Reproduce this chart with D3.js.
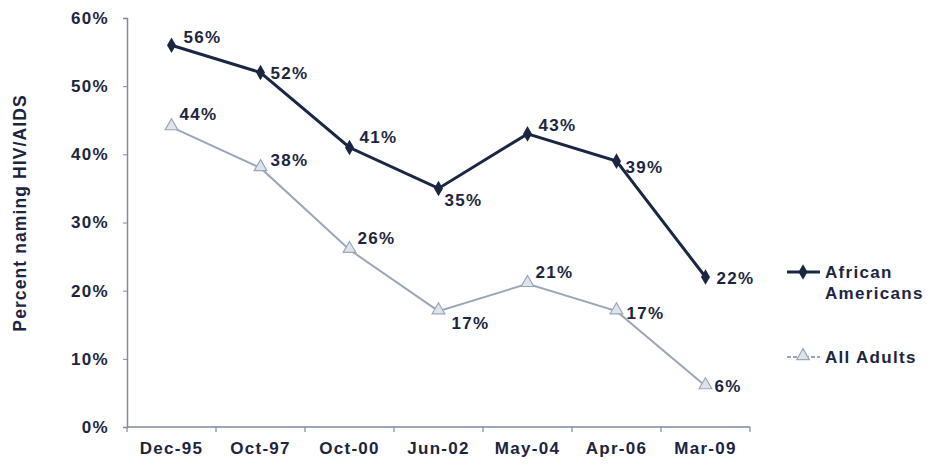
<!DOCTYPE html>
<html>
<head>
<meta charset="utf-8">
<script src="https://cdn.jsdelivr.net/npm/d3@7"></script>
<style>
  body { margin: 0; background: #fff; }
  text { font-family: "Liberation Sans", Arial, sans-serif; font-weight: bold; fill: #1c2540; letter-spacing: 1.3px; }
</style>
</head>
<body>
<div id="chart"></div>
<script>
// Data
const categories = ["Dec-95", "Oct-97", "Oct-00", "Jun-02", "May-04", "Apr-06", "Mar-09"];
const africanAmericans = [56, 52, 41, 35, 43, 39, 22];
const allAdults = [44, 38, 26, 17, 21, 17, 6];
const yTicks = [0, 10, 20, 30, 40, 50, 60];

// label offsets relative to each point [dx, dy]
const aaOffsets = [[12, -8], [10, 1], [10, -10], [6, 12], [11, -9], [9, 6], [11, 1]];
const allOffsets = [[8, -13], [10, -8], [8, -12], [13, 12], [8, -12], [10, 2], [9, 0]];

const W = 930, H = 465;
const margin = { top: 18, left: 127, right: 180, bottom: 38 };
const plotW = 623, plotH = 409;
const fontSize = "17px";

const svg = d3.select("#chart").append("svg")
    .attr("width", W)
    .attr("height", H);

const g = svg.append("g").attr("transform", `translate(${margin.left},${margin.top})`);

const x = d3.scaleBand().domain(categories).range([0, plotW]);
const y = d3.scaleLinear().domain([0, 60]).range([plotH, 0]);

const axisColor = "#7d8aa0";

// Y axis
const yAxis = g.append("g")
    .call(d3.axisLeft(y).tickValues(yTicks).tickSize(4).tickPadding(14).tickFormat(d => d + "%"));
yAxis.select(".domain").attr("stroke", axisColor).attr("stroke-width", 1.5);
yAxis.selectAll(".tick line").attr("stroke", axisColor);
yAxis.selectAll("text").style("font-size", fontSize).attr("fill", "#1c2540");

// X axis with ticks between categories
const xAxis = g.append("g").attr("transform", `translate(0,${plotH})`);
xAxis.append("line")
    .attr("x1", 0).attr("x2", plotW)
    .attr("stroke", axisColor).attr("stroke-width", 1.5);
xAxis.selectAll(".sep")
    .data(d3.range(categories.length + 1))
    .enter().append("line")
    .attr("x1", i => i * x.bandwidth()).attr("x2", i => i * x.bandwidth())
    .attr("y1", 0).attr("y2", 5)
    .attr("stroke", axisColor).attr("stroke-width", 1.2);
xAxis.selectAll(".xl")
    .data(categories)
    .enter().append("text")
    .attr("x", d => x(d) + x.bandwidth() / 2)
    .attr("y", 27)
    .attr("text-anchor", "middle")
    .style("font-size", fontSize)
    .text(d => d);

// Y title
svg.append("text")
    .attr("transform", "rotate(-90)")
    .attr("x", -213)
    .attr("y", 26)
    .attr("text-anchor", "middle")
    .style("font-size", "17.5px")
    .style("letter-spacing", "1.1px")
    .text("Percent naming HIV/AIDS");

const cx = d => x(d) + x.bandwidth() / 2;

const line = d3.line()
    .x((d, i) => cx(categories[i]))
    .y(d => y(d));

// All Adults
const grayCol = "#9ba7b9";
g.append("path")
    .datum(allAdults)
    .attr("d", line)
    .attr("fill", "none")
    .attr("stroke", grayCol)
    .attr("stroke-width", 2);

const tri = d3.symbol().type(d3.symbolTriangle).size(70);
g.selectAll(".tri")
    .data(allAdults)
    .enter().append("path")
    .attr("d", tri)
    .attr("transform", (d, i) => `translate(${cx(categories[i])},${y(d) - 1})`)
    .attr("fill", "#dfe3ea")
    .attr("stroke", grayCol)
    .attr("stroke-width", 1.2);

// African Americans
const navy = "#1b2643";
g.append("path")
    .datum(africanAmericans)
    .attr("d", line)
    .attr("fill", "none")
    .attr("stroke", navy)
    .attr("stroke-width", 3);

const dia = d3.symbol().type(d3.symbolDiamond).size(70);
g.selectAll(".dia")
    .data(africanAmericans)
    .enter().append("path")
    .attr("d", dia)
    .attr("transform", (d, i) => `translate(${cx(categories[i])},${y(d)})`)
    .attr("fill", navy);

// Value labels
g.selectAll(".aaLab")
    .data(africanAmericans)
    .enter().append("text")
    .attr("x", (d, i) => cx(categories[i]) + aaOffsets[i][0])
    .attr("y", (d, i) => y(d) + aaOffsets[i][1])
    .attr("dy", "0.35em")
    .style("font-size", fontSize)
    .text(d => d + "%");

g.selectAll(".allLab")
    .data(allAdults)
    .enter().append("text")
    .attr("x", (d, i) => cx(categories[i]) + allOffsets[i][0])
    .attr("y", (d, i) => y(d) + allOffsets[i][1])
    .attr("dy", "0.35em")
    .style("font-size", fontSize)
    .text(d => d + "%");

// Legend
const legend = svg.append("g").attr("transform", "translate(787,0)");
legend.append("line").attr("x1", 0).attr("x2", 33).attr("y1", 272).attr("y2", 272)
    .attr("stroke", navy).attr("stroke-width", 3);
legend.append("path").attr("d", dia).attr("transform", "translate(16,272)").attr("fill", navy);
legend.append("text").attr("x", 38).attr("y", 272).attr("dy", "0.35em").style("font-size", fontSize).text("African");
legend.append("text").attr("x", 38).attr("y", 293).attr("dy", "0.35em").style("font-size", fontSize).text("Americans");

legend.append("line").attr("x1", 0).attr("x2", 33).attr("y1", 357).attr("y2", 357)
    .attr("stroke", grayCol).attr("stroke-width", 2).attr("stroke-dasharray", "4,2");
legend.append("path").attr("d", tri).attr("transform", "translate(16,356)")
    .attr("fill", "#dfe3ea").attr("stroke", grayCol).attr("stroke-width", 1.2);
legend.append("text").attr("x", 38).attr("y", 357).attr("dy", "0.35em").style("font-size", fontSize).text("All Adults");
</script>
</body>
</html>
